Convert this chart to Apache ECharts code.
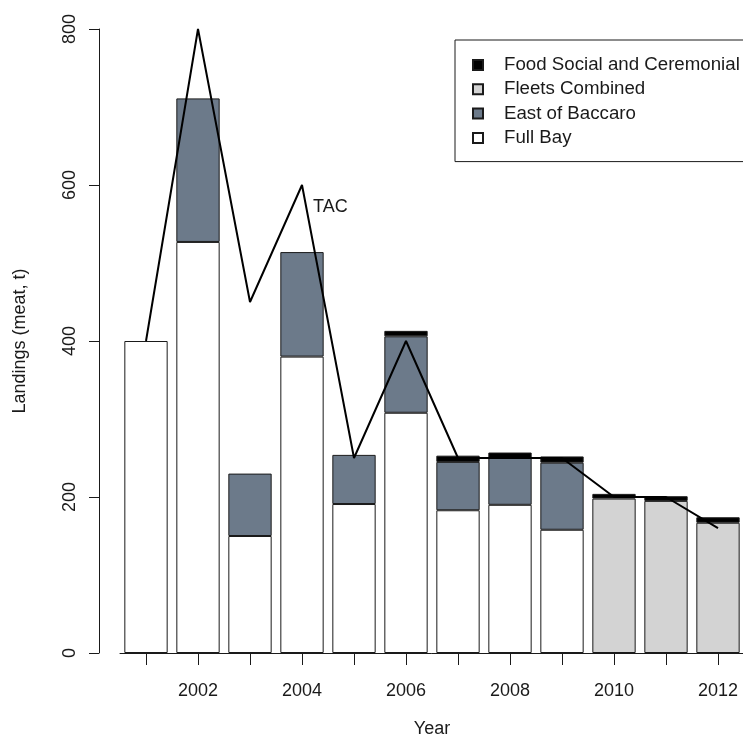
<!DOCTYPE html>
<html>
<head>
<meta charset="utf-8">
<script src="https://cdn.jsdelivr.net/npm/echarts@6/dist/echarts.min.js"></script>
<style>
  html, body { margin: 0; padding: 0; background: #ffffff; }
  #chart { width: 743px; height: 737px; }
</style>
</head>
<body>
<div id="chart"></div>
<script>
// Scallop landings by fleet component, with the total allowable catch (TAC)
const years = ['2001', '2002', '2003', '2004', '2005', '2006', '2007', '2008', '2009', '2010', '2011', '2012'];
const fullBay = [400, 527, 150, 380, 191, 308, 183, 190, 158, null, null, null];
const fleetsCombined = [null, null, null, null, null, null, null, null, null, 198, 195, 167];
const eastOfBaccaro = [null, 184, 80, 134, 63, 98, 62, 60, 86, null, null, null];
const foodSocial = [null, null, null, null, null, 7, 8, 7, 8, 6, 6, 7];
const tac = [400, 800, 450, 600, 250, 400, 250, 250, 250, 200, 200, 160];
const yTicks = [0, 200, 400, 600, 800];

const FONT = 'Liberation Sans, Arial, sans-serif';
const border = { borderColor: '#1a1a1a', borderWidth: 1 };

function barSeries(name, data, fill) {
  return {
    name: name,
    type: 'bar',
    stack: 'landings',
    data: data,
    barCategoryGap: '16.67%',
    itemStyle: Object.assign({ color: fill }, border),
    emphasis: { disabled: true },
    animation: false
  };
}

const chart = echarts.init(document.getElementById('chart'), null, { renderer: 'canvas' });

chart.setOption({
  animation: false,
  backgroundColor: '#ffffff',
  textStyle: { fontFamily: FONT },
  grid: { left: 120, top: 29, width: 624, height: 624, containLabel: false, outerBoundsMode: 'none' },
  xAxis: {
    type: 'category',
    data: years,
    name: 'Year',
    nameLocation: 'middle',
    nameGap: 67,
    nameTextStyle: { fontSize: 18, color: '#1a1a1a', fontFamily: FONT },
    axisLine: { show: true, lineStyle: { color: '#1a1a1a', width: 1 } },
    axisTick: { show: true, alignWithLabel: true, interval: 0, length: 12, lineStyle: { color: '#1a1a1a', width: 1 } },
    axisLabel: {
      interval: function (i) { return i % 2 === 1; },
      margin: 29,
      fontSize: 18,
      color: '#1a1a1a',
      fontFamily: FONT
    },
    splitLine: { show: false }
  },
  yAxis: {
    type: 'value',
    min: yTicks[0],
    max: yTicks[yTicks.length - 1],
    interval: yTicks[1] - yTicks[0],
    offset: 21,
    name: 'Landings (meat, t)',
    nameLocation: 'middle',
    nameGap: 70,
    nameRotate: 90,
    nameTextStyle: { fontSize: 18, color: '#1a1a1a', fontFamily: FONT },
    axisLine: { show: true, lineStyle: { color: '#1a1a1a', width: 1 } },
    axisTick: { show: true, length: 10, lineStyle: { color: '#1a1a1a', width: 1 } },
    axisLabel: { rotate: 90, margin: 20, fontSize: 18, color: '#1a1a1a', fontFamily: FONT },
    splitLine: { show: false }
  },
  legend: {
    left: 455,
    top: 40,
    orient: 'vertical',
    backgroundColor: '#ffffff',
    borderColor: '#1a1a1a',
    borderWidth: 1,
    borderRadius: 0,
    padding: [15, 40, 13.7, 17],
    itemGap: 4.3,
    itemWidth: 10,
    itemHeight: 10,
    icon: 'rect',
    selectedMode: false,
    textStyle: { fontSize: 18.7, color: '#1a1a1a', fontFamily: FONT, lineHeight: 20, padding: [0, 0, 0, 16] },
    data: ['Food Social and Ceremonial', 'Fleets Combined', 'East of Baccaro', 'Full Bay']
  },
  series: [
    barSeries('Full Bay', fullBay, '#ffffff'),
    barSeries('Fleets Combined', fleetsCombined, '#d3d3d3'),
    barSeries('East of Baccaro', eastOfBaccaro, '#6c7a8a'),
    barSeries('Food Social and Ceremonial', foodSocial, '#000000'),
    {
      name: 'TAC',
      type: 'line',
      data: tac,
      symbol: 'none',
      z: 5,
      lineStyle: { color: '#000000', width: 2 },
      emphasis: { disabled: true },
      markPoint: {
        symbol: 'circle',
        symbolSize: 0,
        data: [{
          coord: [years[3], tac[3]],
          label: {
            show: true,
            formatter: 'TAC',
            position: 'right',
            distance: 5,
            offset: [6, 22],
            fontSize: 18,
            color: '#1a1a1a',
            fontFamily: FONT
          }
        }]
      }
    }
  ]
});
</script>
</body>
</html>
